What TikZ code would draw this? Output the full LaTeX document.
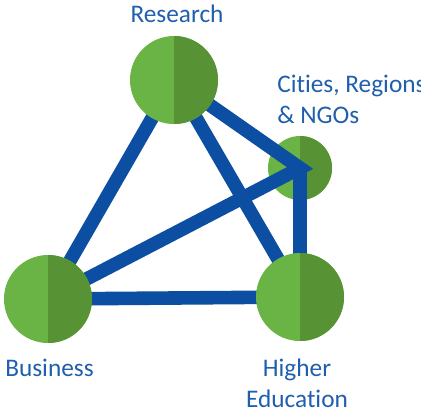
\documentclass[tikz,border=0pt]{standalone}
\usepackage{fontspec}
\setmainfont{Carlito}[Ligatures={NoCommon,NoDiscretionary,NoRare}]
\usepackage{xcolor}
\definecolor{leafL}{HTML}{6AB446}
\definecolor{leafD}{HTML}{579334}
\definecolor{linkblue}{HTML}{0B4EA2}
\definecolor{textblue}{HTML}{1F5FAD}
\pgfdeclarelayer{front}
\pgfsetlayers{main,front}
\tikzstyle{hub} = [circle, inner sep=0pt, minimum size=2.2cm, fill=leafL,
  path picture={\fill[leafD] (path picture bounding box.north) rectangle (path picture bounding box.south east);}]
\tikzstyle{link} = [linkblue, line width=0.34cm, line join=miter]
\tikzstyle{lbl} = [textblue, font=\fontsize{18}{22}\selectfont, inner sep=0pt]

\begin{document}
\begin{tikzpicture}[x=0.025cm, y=-0.025cm]
	\useasboundingbox (0, 0) rectangle (421, 409);
	\begin{pgfonlayer}{front}
	\node[hub] (res) at (174, 80) {};
	\node[hub] (bus) at (48, 299) {};
	\node[hub] (edu) at (300, 297) {};
	\end{pgfonlayer}
	\node[hub, minimum size=1.6cm] (cit) at (300, 168) {};
	\draw[link] (res.center) -- (cit.center) -- (bus.center);
	\draw[link] (res.center) -- (bus.center) -- (edu.center) -- (res.center);
	\draw[link] (cit.center) -- (edu.center);
	\node[lbl, anchor=base] (resl) at (177, 22) {Research};
	\node[lbl, anchor=base west, align=left] (citl) at (277, 123) {Cities, Regions\\\& NGOs};
	\node[lbl, anchor=base west] (busl) at (5, 376) {Business};
	\node[lbl, anchor=base, align=center] (edul) at (297, 407) {Higher\\Education};
\end{tikzpicture}
\end{document}
